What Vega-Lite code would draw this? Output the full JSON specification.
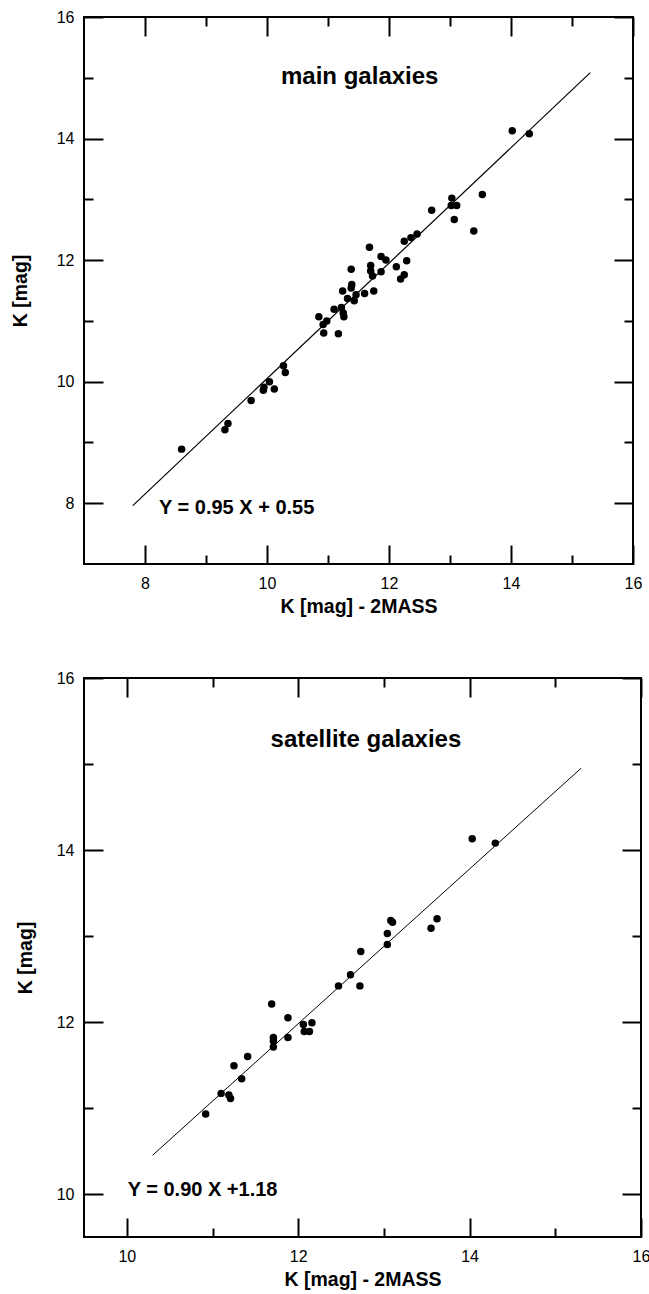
{
  "$schema": "https://vega.github.io/schema/vega-lite/v6.json",
  "background": "white",
  "padding": {"left": 9, "top": 8, "right": 5, "bottom": 5},
  "columns": 1,
  "align": "none",
  "spacing": 52,
  "config": {
    "font": "Liberation Sans",
    "view": {"stroke": "black", "strokeWidth": 2},
    "axis": {
      "domain": false, "grid": false,
      "tickColor": "black", "tickWidth": 2,
      "labelFont": "Liberation Sans", "labelFontSize": 16, "labelColor": "black",
      "titleFont": "Liberation Sans", "titleFontSize": 19.5, "titleFontWeight": "bold", "titleColor": "black"
    }
  },
  "concat": [
    {
      "width": 549, "height": 547,
      "resolve": {"axis": {"x": "independent", "y": "independent"}},
      "layer": [
        {
          "data": {"values": [
            {"x": 14.02, "y": 14.13}, {"x": 14.30, "y": 14.08}, {"x": 13.53, "y": 13.08}, {"x": 13.03, "y": 13.02},
            {"x": 13.02, "y": 12.90}, {"x": 13.11, "y": 12.90}, {"x": 12.70, "y": 12.82}, {"x": 13.07, "y": 12.67},
            {"x": 13.39, "y": 12.48}, {"x": 12.46, "y": 12.43}, {"x": 12.36, "y": 12.37}, {"x": 12.25, "y": 12.31},
            {"x": 11.68, "y": 12.21}, {"x": 11.87, "y": 12.06}, {"x": 11.95, "y": 12.00}, {"x": 12.29, "y": 11.99},
            {"x": 11.70, "y": 11.91}, {"x": 12.12, "y": 11.89}, {"x": 11.38, "y": 11.85}, {"x": 11.70, "y": 11.82},
            {"x": 11.73, "y": 11.74}, {"x": 11.87, "y": 11.81}, {"x": 12.25, "y": 11.76}, {"x": 12.19, "y": 11.69},
            {"x": 11.39, "y": 11.60}, {"x": 11.38, "y": 11.54}, {"x": 11.24, "y": 11.49}, {"x": 11.75, "y": 11.49},
            {"x": 11.60, "y": 11.45}, {"x": 11.46, "y": 11.43}, {"x": 11.43, "y": 11.33}, {"x": 11.32, "y": 11.37},
            {"x": 11.10, "y": 11.19}, {"x": 11.22, "y": 11.22}, {"x": 11.26, "y": 11.07}, {"x": 11.25, "y": 11.13},
            {"x": 10.85, "y": 11.07}, {"x": 10.98, "y": 11.00}, {"x": 10.92, "y": 10.94}, {"x": 10.93, "y": 10.80},
            {"x": 11.17, "y": 10.79}, {"x": 10.27, "y": 10.26}, {"x": 10.30, "y": 10.15}, {"x": 10.04, "y": 10.00},
            {"x": 10.12, "y": 9.88}, {"x": 9.94, "y": 9.86}, {"x": 9.95, "y": 9.91}, {"x": 9.74, "y": 9.69},
            {"x": 9.31, "y": 9.21}, {"x": 9.36, "y": 9.31}, {"x": 8.60, "y": 8.89}
          ]},
          "mark": {"type": "circle", "size": 56, "color": "black", "opacity": 1},
          "encoding": {
            "x": {"field": "x", "type": "quantitative", "scale": {"domain": [7, 16], "nice": false, "zero": false},
              "axis": {"orient": "bottom", "title": "K [mag] - 2MASS", "values": [8, 10, 12, 14, 16],
                "tickSize": -19, "labelPadding": 30, "titlePadding": 6, "labelFlush": false}},
            "y": {"field": "y", "type": "quantitative", "scale": {"domain": [7, 16], "nice": false, "zero": false},
              "axis": {"orient": "left", "title": "K [mag]", "values": [8, 10, 12, 14, 16],
                "tickSize": -19, "labelPadding": 29, "titlePadding": 26, "labelFlush": false}}
          }
        },
        {
          "data": {"values": [{"x": 7.8, "y": 7.96}, {"x": 15.3, "y": 15.085}]},
          "mark": {"type": "line", "color": "black", "strokeWidth": 1.2},
          "encoding": {
            "x": {"field": "x", "type": "quantitative", "scale": {"domain": [7, 16], "nice": false, "zero": false},
              "axis": {"orient": "top", "title": null, "labels": false, "values": [8, 10, 12, 14, 16], "tickSize": -19}},
            "y": {"field": "y", "type": "quantitative", "scale": {"domain": [7, 16], "nice": false, "zero": false},
              "axis": {"orient": "right", "title": null, "labels": false, "values": [8, 10, 12, 14, 16], "tickSize": -19}}
          }
        },
        {
          "data": {"values": [{"label": "main galaxies", "x": 11.52, "y": 14.9}]},
          "mark": {"type": "text", "font": "Liberation Sans", "fontWeight": "bold", "fontSize": 24, "align": "center", "baseline": "alphabetic", "color": "black"},
          "encoding": {
            "x": {"field": "x", "type": "quantitative", "scale": {"domain": [7, 16], "nice": false, "zero": false},
              "axis": {"orient": "bottom", "title": null, "labels": false, "values": [9, 11, 13, 15], "tickSize": -9}},
            "y": {"field": "y", "type": "quantitative", "scale": {"domain": [7, 16], "nice": false, "zero": false},
              "axis": {"orient": "left", "title": null, "labels": false, "values": [9, 11, 13, 15], "tickSize": -9}},
            "text": {"field": "label"}
          }
        },
        {
          "data": {"values": [{"label": "Y = 0.95 X + 0.55", "x": 8.23, "y": 7.83}]},
          "mark": {"type": "text", "font": "Liberation Sans", "fontWeight": "bold", "fontSize": 20, "align": "left", "baseline": "alphabetic", "color": "black"},
          "encoding": {
            "x": {"field": "x", "type": "quantitative", "scale": {"domain": [7, 16], "nice": false, "zero": false},
              "axis": {"orient": "top", "title": null, "labels": false, "values": [9, 11, 13, 15], "tickSize": -9}},
            "y": {"field": "y", "type": "quantitative", "scale": {"domain": [7, 16], "nice": false, "zero": false},
              "axis": {"orient": "right", "title": null, "labels": false, "values": [9, 11, 13, 15], "tickSize": -9}},
            "text": {"field": "label"}
          }
        }
      ]
    },
    {
      "width": 557, "height": 559,
      "resolve": {"axis": {"x": "independent", "y": "independent"}},
      "layer": [
        {
          "data": {"values": [
            {"x": 14.03, "y": 14.13}, {"x": 14.30, "y": 14.08}, {"x": 13.62, "y": 13.20}, {"x": 13.55, "y": 13.09},
            {"x": 13.10, "y": 13.16}, {"x": 13.08, "y": 13.18}, {"x": 13.04, "y": 13.03}, {"x": 13.04, "y": 12.90},
            {"x": 12.73, "y": 12.82}, {"x": 12.61, "y": 12.55}, {"x": 12.47, "y": 12.42}, {"x": 12.72, "y": 12.42},
            {"x": 11.69, "y": 12.21}, {"x": 11.88, "y": 12.05}, {"x": 12.06, "y": 11.97}, {"x": 12.16, "y": 11.99},
            {"x": 12.07, "y": 11.89}, {"x": 12.13, "y": 11.89}, {"x": 11.71, "y": 11.82}, {"x": 11.71, "y": 11.78},
            {"x": 11.88, "y": 11.82}, {"x": 11.71, "y": 11.71}, {"x": 11.41, "y": 11.60}, {"x": 11.25, "y": 11.49},
            {"x": 11.34, "y": 11.34}, {"x": 11.10, "y": 11.17}, {"x": 11.19, "y": 11.15}, {"x": 11.21, "y": 11.11},
            {"x": 10.92, "y": 10.93}
          ]},
          "mark": {"type": "circle", "size": 56, "color": "black", "opacity": 1},
          "encoding": {
            "x": {"field": "x", "type": "quantitative", "scale": {"domain": [9.5, 16], "nice": false, "zero": false},
              "axis": {"orient": "bottom", "title": "K [mag] - 2MASS", "values": [10, 12, 14, 16],
                "tickSize": -19, "labelPadding": 30, "titlePadding": 6, "labelFlush": false}},
            "y": {"field": "y", "type": "quantitative", "scale": {"domain": [9.5, 16], "nice": false, "zero": false},
              "axis": {"orient": "left", "title": "K [mag]", "values": [10, 12, 14, 16],
                "tickSize": -19, "labelPadding": 29, "titlePadding": 21, "labelFlush": false}}
          }
        },
        {
          "data": {"values": [{"x": 10.3, "y": 10.45}, {"x": 15.3, "y": 14.95}]},
          "mark": {"type": "line", "color": "black", "strokeWidth": 1},
          "encoding": {
            "x": {"field": "x", "type": "quantitative", "scale": {"domain": [9.5, 16], "nice": false, "zero": false},
              "axis": {"orient": "top", "title": null, "labels": false, "values": [10, 12, 14, 16], "tickSize": -19}},
            "y": {"field": "y", "type": "quantitative", "scale": {"domain": [9.5, 16], "nice": false, "zero": false},
              "axis": {"orient": "right", "title": null, "labels": false, "values": [10, 12, 14, 16], "tickSize": -19}}
          }
        },
        {
          "data": {"values": [{"label": "satellite galaxies", "x": 12.79, "y": 15.2}]},
          "mark": {"type": "text", "font": "Liberation Sans", "fontWeight": "bold", "fontSize": 24, "align": "center", "baseline": "alphabetic", "color": "black"},
          "encoding": {
            "x": {"field": "x", "type": "quantitative", "scale": {"domain": [9.5, 16], "nice": false, "zero": false},
              "axis": {"orient": "bottom", "title": null, "labels": false, "values": [11, 13, 15], "tickSize": -9}},
            "y": {"field": "y", "type": "quantitative", "scale": {"domain": [9.5, 16], "nice": false, "zero": false},
              "axis": {"orient": "left", "title": null, "labels": false, "values": [11, 13, 15], "tickSize": -9}},
            "text": {"field": "label"}
          }
        },
        {
          "data": {"values": [{"label": "Y = 0.90 X +1.18", "x": 10.01, "y": 9.98}]},
          "mark": {"type": "text", "font": "Liberation Sans", "fontWeight": "bold", "fontSize": 20, "align": "left", "baseline": "alphabetic", "color": "black"},
          "encoding": {
            "x": {"field": "x", "type": "quantitative", "scale": {"domain": [9.5, 16], "nice": false, "zero": false},
              "axis": {"orient": "top", "title": null, "labels": false, "values": [11, 13, 15], "tickSize": -9}},
            "y": {"field": "y", "type": "quantitative", "scale": {"domain": [9.5, 16], "nice": false, "zero": false},
              "axis": {"orient": "right", "title": null, "labels": false, "values": [11, 13, 15], "tickSize": -9}},
            "text": {"field": "label"}
          }
        }
      ]
    }
  ]
}
